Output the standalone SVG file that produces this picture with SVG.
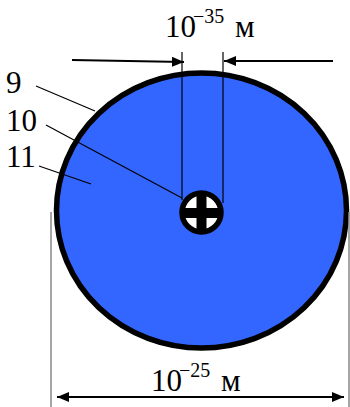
<svg xmlns="http://www.w3.org/2000/svg" width="350" height="407" viewBox="0 0 350 407">
<style>
text{font-family:'Liberation Serif','Times New Roman',serif;fill:#000}
.big{font-size:31px}
.sup{font-size:20px}
.lead{stroke:#000;stroke-width:1.2;fill:none}
.ext{stroke:#888;stroke-width:1.5;fill:none}
.dim{stroke:#000;stroke-width:2.2;fill:none}
</style>
<defs>
<marker id="ah" viewBox="0 0 12 10" refX="12" refY="5" markerWidth="12" markerHeight="10" markerUnits="userSpaceOnUse" orient="auto-start-reverse">
<path d="M0,0 L12,5 L0,10 Z" fill="#000"/>
</marker>
</defs>
<g id="outer-sphere">
<ellipse cx="201.5" cy="210.5" rx="145" ry="137.5" fill="#3366ff" stroke="#000" stroke-width="5.5"/>
</g>
<g id="core">
<circle cx="201.5" cy="212.5" r="19.5" fill="#fff" stroke="#000" stroke-width="5.5"/>
<rect x="196.5" y="194" width="10" height="37" fill="#000"/>
<rect x="183" y="208" width="37" height="10" fill="#000"/>
</g>
<g id="connectors">
<line class="lead" x1="182" y1="52" x2="182" y2="200"/>
<line class="lead" x1="223" y1="52" x2="223" y2="203"/>
<line class="dim" x1="72" y1="60" x2="184" y2="62" marker-end="url(#ah)"/>
<line class="dim" x1="333" y1="61" x2="224" y2="61" marker-end="url(#ah)"/>
<line class="ext" x1="51" y1="212" x2="51" y2="407"/>
<line class="ext" x1="349" y1="212" x2="349" y2="407"/>
<line class="dim" x1="57" y1="397" x2="344" y2="397" marker-start="url(#ah)" marker-end="url(#ah)"/>
<line class="lead" x1="36" y1="86" x2="95" y2="111"/>
<line class="lead" x1="46" y1="125" x2="182" y2="198"/>
<line class="lead" x1="39" y1="166" x2="91" y2="184"/>
</g>
<g id="labels">
<text class="big" x="6" y="93">9</text>
<text class="big" x="6" y="131">10</text>
<text class="big" x="6" y="167">11</text>
<text><tspan class="big" x="165" y="37">10</tspan><tspan class="sup" x="193" y="23">−35</tspan><tspan class="big" x="235" y="37">м</tspan></text>
<text><tspan class="big" x="151" y="391">10</tspan><tspan class="sup" x="179" y="377">−25</tspan><tspan class="big" x="221" y="391">м</tspan></text>
</g>
</svg>
